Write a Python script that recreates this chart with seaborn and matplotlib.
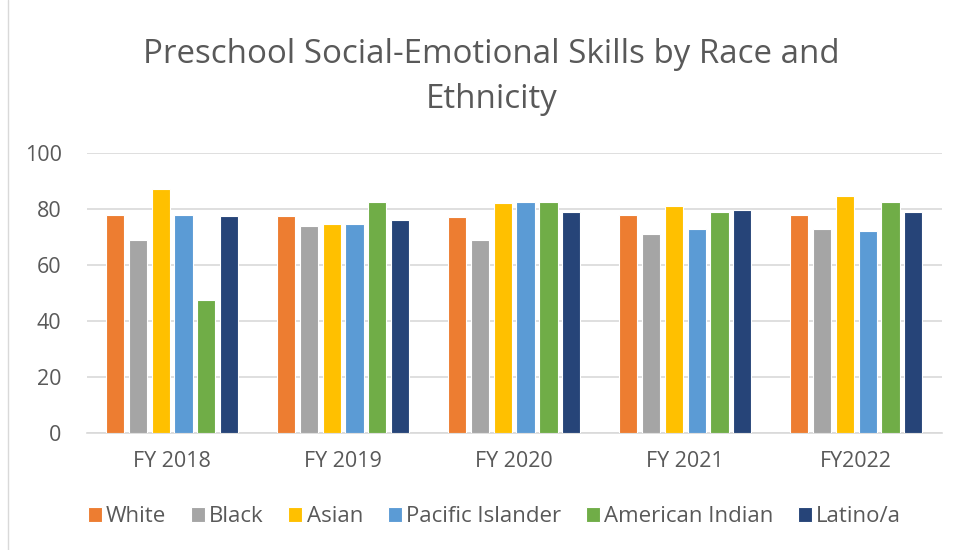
import matplotlib.pyplot as plt
import seaborn as sns
import pandas as pd

years = ['FY 2018', 'FY 2019', 'FY 2020', 'FY 2021', 'FY2022']
groups = ['White', 'Black', 'Asian', 'Pacific Islander', 'American Indian', 'Latino/a']

white = [78, 77.5, 77, 78, 78]
black = [69, 74, 69, 71, 73]
asian = [87, 74.5, 82, 81, 84.5]
pacific = [78, 74.5, 82.5, 73, 72]
am_indian = [47.5, 82.5, 82.5, 79, 82.5]
latino = [77.5, 76, 79, 79.5, 79]

colors = ['#ED7D31', '#A5A5A5', '#FFC000', '#5B9BD5', '#70AD47', '#264478']

# Long format for seaborn
rows = []
for g, vals in zip(groups, [white, black, asian, pacific, am_indian, latino]):
    for y, v in zip(years, vals):
        rows.append({'Year': y, 'Group': g, 'Score': v})
df = pd.DataFrame(rows)

sns.set_style('white')
plt.rcParams['font.family'] = ['Open Sans', 'DejaVu Sans']
text_color = '#595959'

fig = plt.figure(figsize=(9.62, 5.5), dpi=100)
ax = fig.add_axes([0.09, 0.2127, 0.889, 0.509])

sns.barplot(data=df, x='Year', y='Score', hue='Group', order=years, hue_order=groups,
            palette=colors, saturation=1, width=0.8, gap=0.2, edgecolor='white',
            linewidth=0.8, ax=ax, zorder=3)

ax.set_ylim(0, 100)
ax.set_yticks(range(0, 101, 20))
ax.set_xlim(-0.5, 4.5)
ax.yaxis.grid(True, color='#D9D9D9', linewidth=1.2, zorder=0)
ax.set_axisbelow(True)
for s in ['top', 'right', 'left']:
    ax.spines[s].set_visible(False)
ax.spines['bottom'].set_color('#D9D9D9')
ax.spines['bottom'].set_linewidth(1.2)
ax.tick_params(axis='both', length=0, labelsize=15.5, labelcolor=text_color)
ax.tick_params(axis='x', pad=13)
ax.tick_params(axis='y', pad=18)
ax.set_xlabel('')
ax.set_ylabel('')

fig.text(0.511, 0.86, 'Preschool Social-Emotional Skills by Race and\nEthnicity',
         ha='center', va='center', fontsize=23.8, color=text_color, linespacing=1.45)

ax.legend(loc='center', bbox_to_anchor=(0.477, -0.299), ncol=6, frameon=False,
          fontsize=16, labelcolor=text_color, handlelength=0.63, handleheight=0.63,
          handletextpad=0.2, columnspacing=1.1)

fig.add_artist(plt.Line2D([0.008, 0.008], [0, 1], transform=fig.transFigure,
                          color='#D9D9D9', linewidth=1))

fig.savefig('out.png', dpi=100)
